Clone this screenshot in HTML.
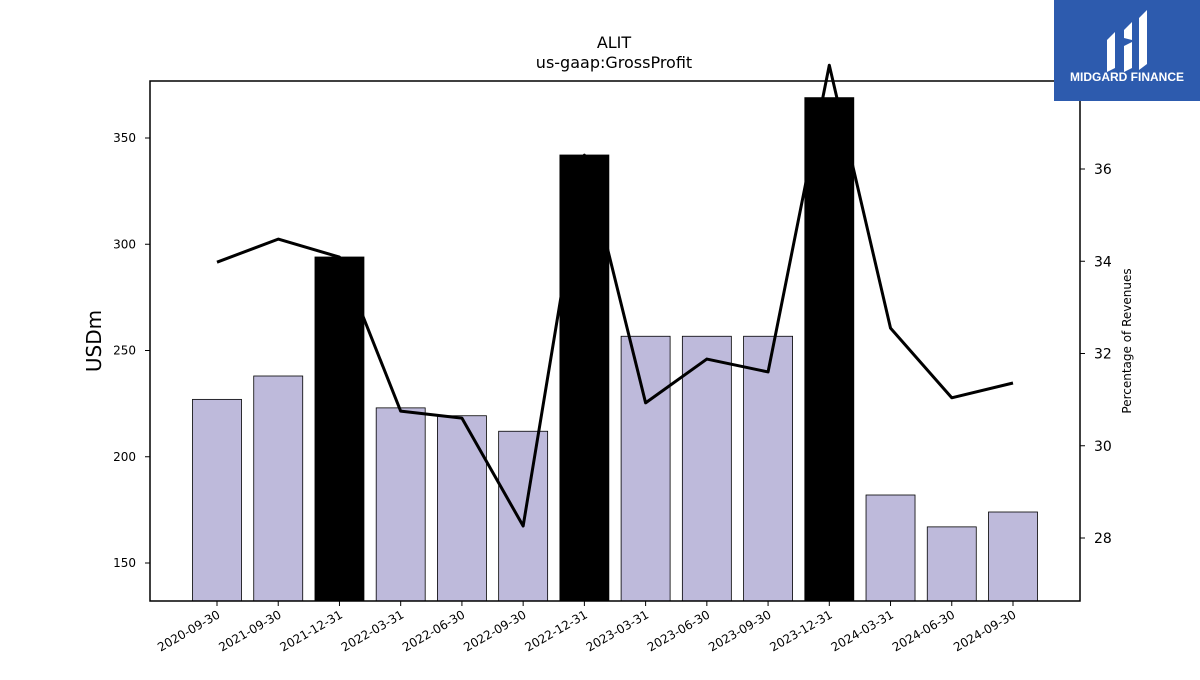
<!DOCTYPE html>
<html><head><meta charset="utf-8"><style>
body{margin:0;background:#fff;width:1200px;height:675px;overflow:hidden;font-family:"Liberation Sans","DejaVu Sans",sans-serif}
svg text{font-family:"DejaVu Sans","Liberation Sans",sans-serif}
</style></head><body>
<svg id="chart" width="1200" height="675" xmlns="http://www.w3.org/2000/svg">
<text x="614" y="48" font-size="16" text-anchor="middle">ALIT</text>
<text x="614" y="68" font-size="16" text-anchor="middle">us-gaap:GrossProfit</text>
<g id="bars"></g><g id="line"></g><g id="axes"></g>
<rect x="150" y="81" width="930" height="520" fill="none" stroke="#000" stroke-width="1.5"/>
<text transform="translate(101,341) rotate(-90)" font-size="20" text-anchor="middle">USDm</text>
<text transform="translate(1131,341) rotate(-90)" font-size="12" text-anchor="middle">Percentage of Revenues</text>
<g>
<rect x="1054" y="0" width="146" height="101" fill="#2d5bae"/>
<path d="M1107 40 L1115 32 L1115 68 L1107 72 Z M1124 30 L1132 22 L1132 40 L1124 38 Z M1124 46 L1132 42 L1132 68 L1124 72 Z M1139 18 L1147 10 L1147 64 L1139 70 Z" fill="#fff"/>
<text x="1127" y="81" font-size="12" font-weight="bold" fill="#fff" text-anchor="middle" style="font-family:'Liberation Sans',sans-serif">MIDGARD FINANCE</text>
</g>
</svg>
<script>
const categories=["2020-09-30","2021-09-30","2021-12-31","2022-03-31","2022-06-30","2022-09-30","2022-12-31","2023-03-31","2023-06-30","2023-09-30","2023-12-31","2024-03-31","2024-06-30","2024-09-30"];
const grossProfit=[227,238,294,223,219.3,212,342,256.7,256.7,256.7,369,182,167,174];
const pctRevenue=[33.98,34.48,34.09,30.75,30.6,28.26,36.3,30.93,31.88,31.6,38.25,32.55,31.04,31.36];
const leftTicks=[150,200,250,300,350];
const rightTicks=[28,30,32,34,36];
const NS="http://www.w3.org/2000/svg";
const L=150,R=1080,T=81,B=601;
const yL=v=>563-(v-150)*2.125;
const yR=v=>538-(v-28)*46.125;
const xC=i=>217+i*61.23;
function mk(tag,attrs,parent){const e=document.createElementNS(NS,tag);for(const k in attrs)e.setAttribute(k,attrs[k]);parent.appendChild(e);return e;}
const bars=document.getElementById('bars'),line=document.getElementById('line'),axes=document.getElementById('axes');
categories.forEach((c,i)=>{
 const q4=c.endsWith('12-31');
 const y=yL(grossProfit[i]);
 const r=mk('rect',{x:xC(i)-24.5,y:y,width:49,height:B-y,fill:q4?'#000':'#bebadb',stroke:'#000','stroke-width':0.8},bars);
 
 
 const tk=mk('line',{x1:xC(i),x2:xC(i),y1:B,y2:B+5,stroke:'#000'},axes);
 
 
 const t=mk('text',{transform:`translate(${xC(i)+4},${B+16}) rotate(-30)`,'font-size':12,'text-anchor':'end'},axes);
 t.textContent=c;
 
 
});
const pl=mk('polyline',{points:pctRevenue.map((v,i)=>xC(i)+','+yR(v)).join(' '),fill:'none',stroke:'#000','stroke-width':3,'stroke-linejoin':'round'},line);


leftTicks.forEach(v=>{
 const tk=mk('line',{x1:L-5,x2:L,y1:yL(v),y2:yL(v),stroke:'#000'},axes);
 
 
 const t=mk('text',{x:L-14,y:yL(v)+4,'font-size':12,'text-anchor':'end'},axes);
 t.textContent=v;
 
 
});
rightTicks.forEach(v=>{
 const tk=mk('line',{x1:R,x2:R+5,y1:yR(v),y2:yR(v),stroke:'#000'},axes);
 
 
 const t=mk('text',{x:R+14,y:yR(v)+5,'font-size':14},axes);
 t.textContent=v;
 
 
});
</script>
</body></html>
